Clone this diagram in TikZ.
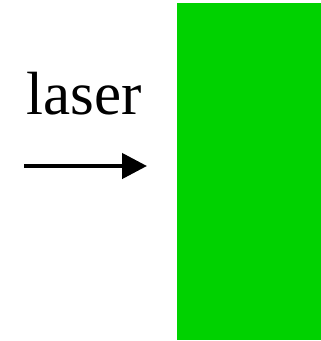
\documentclass[tikz,border=0pt]{standalone}
\usepackage{fontspec}
\setmainfont{Liberation Serif}
\usetikzlibrary{arrows.meta}
\definecolor{platgreen}{RGB}{0,210,0}
\tikzset{
  plate/.style={fill=platgreen, draw=none},
  beam/.style={line width=4.5pt, -{Triangle[length=25pt,width=25pt]}},
  lbl/.style={inner sep=0pt, anchor=base, font=\fontsize{61}{61}\selectfont}
}
\begin{document}
\begin{tikzpicture}[x=1pt,y=-1pt]
\useasboundingbox (0,0) rectangle (321,341);
\fill[platgreen] (177,3) rectangle (321,340);
\node[lbl] (txt) at (84,114) {laser};
\coordinate (a) at (24,166);
\coordinate (b) at (147,166);
\draw[beam] (a) -- (b);
\end{tikzpicture}
\end{document}
